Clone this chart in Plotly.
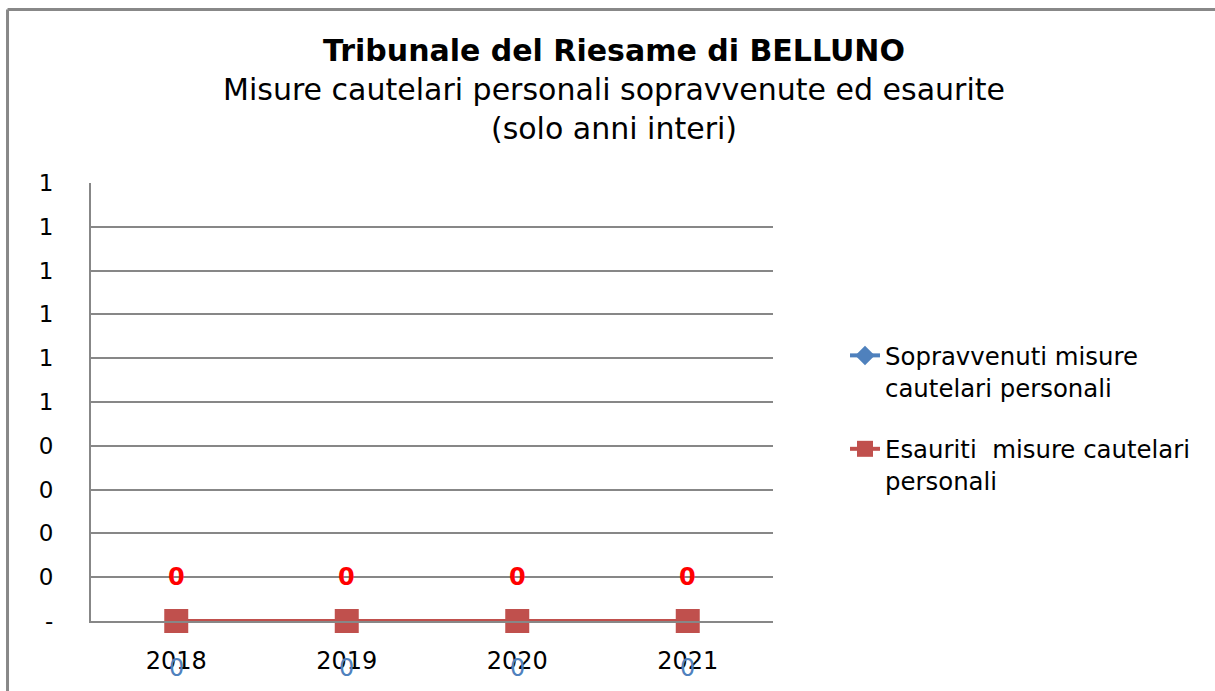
import plotly.graph_objects as go

years = ["2018", "2019", "2020", "2021"]
sopravvenuti = [0, 0, 0, 0]
esauriti = [0, 0, 0, 0]
ytick_vals = [0, 0.1, 0.2, 0.3, 0.4, 0.5, 0.6, 0.7, 0.8, 0.9, 1.0]
ytick_text = ["-", "0", "0", "0", "0", "1", "1", "1", "1", "1", "1"]

name_sopr = "Sopravvenuti misure<br>cautelari personali"
name_esau = "Esauriti  misure cautelari<br>personali"

FONT = "DejaVu Sans"
BLUE = "#4F81BD"
RED = "#C0504D"
GRID = "#878787"

W, H = 1215, 691

fig = go.Figure()
fig.add_trace(go.Scatter(
    x=years, y=sopravvenuti, name=name_sopr, mode="lines+markers",
    line=dict(color=BLUE, width=4),
    marker=dict(symbol="diamond", size=15, color=BLUE),
    cliponaxis=False, legendgroup="a",
))
fig.add_trace(go.Scatter(
    x=years, y=esauriti, name=name_esau, mode="lines+markers",
    line=dict(color=RED, width=4),
    marker=dict(symbol="square", size=24, color=RED),
    cliponaxis=False, legendgroup="b",
))

for i, v in enumerate(esauriti):
    fig.add_annotation(x=i, y=v, xref="x", yref="y", text="<b>%d</b>" % v,
                       showarrow=False, yshift=44,
                       font=dict(family=FONT, size=24, color="#FF0000"))
for i, v in enumerate(sopravvenuti):
    fig.add_annotation(x=i, y=v, xref="x", yref="y", text="%d" % v,
                       showarrow=False, yshift=-47,
                       font=dict(family=FONT, size=24, color=BLUE))

# outer chart frame
fig.add_shape(type="line", xref="paper", yref="paper", x0=-0.1224, x1=1.8,
              y0=1.3961, y1=1.3961, line=dict(color="#888888", width=3))
fig.add_shape(type="line", xref="paper", yref="paper", x0=-0.1224, x1=-0.1224,
              y0=1.3961, y1=-0.3, line=dict(color="#888888", width=3))

fig.update_layout(
    width=W, height=H,
    margin=dict(l=91, r=W - 773, t=183, b=H - 621, autoexpand=False),
    paper_bgcolor="white", plot_bgcolor="white",
    font=dict(family=FONT, size=24, color="#000000"),
    title=dict(
        text="<b>Tribunale del Riesame di BELLUNO</b><br>Misure cautelari personali sopravvenute ed esaurite<br>(solo anni interi)",
        x=614 / W, xanchor="center", xref="container",
        y=1 - 61 / H, yanchor="top", yref="container",
        font=dict(family=FONT, size=30, color="#000000"),
    ),
    legend=dict(
        x=(845 - 91) / 682, xanchor="left", y=0.6575, yanchor="top",
        font=dict(family=FONT, size=24.4, color="#000000"),
        valign="top", tracegroupgap=27, bgcolor="rgba(0,0,0,0)",
    ),
    xaxis=dict(
        type="category", range=[-0.5, 3.5], showgrid=False, zeroline=False,
        showline=True, linecolor=GRID, linewidth=2, ticks="",
        ticklabelstandoff=17, tickfont=dict(family=FONT, size=24, color="#000000"),
    ),
    yaxis=dict(
        range=[0, 1.0001], tickmode="array", tickvals=ytick_vals, ticktext=ytick_text,
        showgrid=True, gridcolor=GRID, gridwidth=2, zeroline=False,
        showline=True, linecolor=GRID, linewidth=2, ticks="",
        ticklabelstandoff=31, tickfont=dict(family=FONT, size=23, color="#000000"),
    ),
    showlegend=True,
)

fig.write_html("out.html", config={"displayModeBar": False},
               post_script="document.body.style.margin='0px';")
